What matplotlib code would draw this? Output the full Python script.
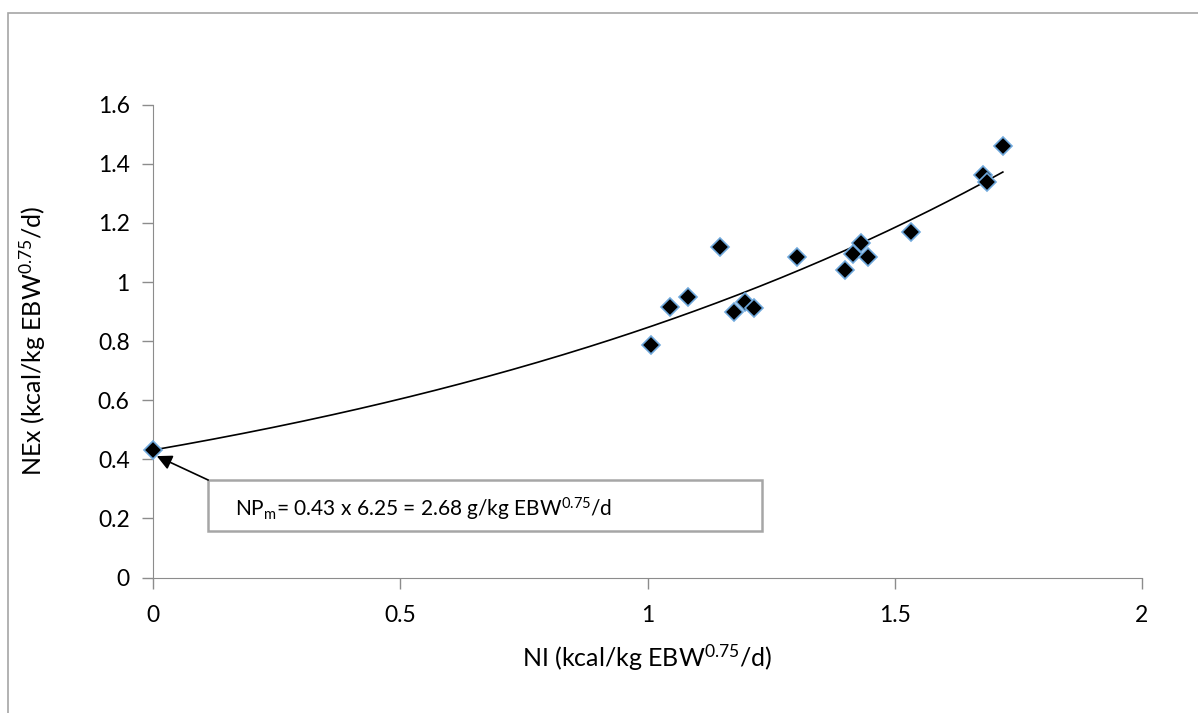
import matplotlib
matplotlib.use("Agg")
import matplotlib.pyplot as plt
from matplotlib.patches import Rectangle
import numpy as np

plt.rcParams.update({
    "font.family": ["Lato", "DejaVu Sans"],
    "mathtext.default": "regular",
    "axes.edgecolor": "#8c8c8c",
    "xtick.color": "#8c8c8c",
    "ytick.color": "#8c8c8c",
    "xtick.labelcolor": "black",
    "ytick.labelcolor": "black",
})

# NI vs NEx
ni = [0.0, 1.007, 1.046, 1.081, 1.146, 1.176, 1.198, 1.216, 1.303,
      1.400, 1.416, 1.431, 1.446, 1.533, 1.679, 1.687, 1.719]
nex = [0.43, 0.786, 0.916, 0.950, 1.118, 0.899, 0.933, 0.911, 1.086,
       1.041, 1.095, 1.133, 1.084, 1.171, 1.363, 1.338, 1.461]

xticks = [0, 0.5, 1, 1.5, 2]
xtick_labels = ["0", "0.5", "1", "1.5", "2"]
yticks = [0, 0.2, 0.4, 0.6, 0.8, 1, 1.2, 1.4, 1.6]
ytick_labels = ["0", "0.2", "0.4", "0.6", "0.8", "1", "1.2", "1.4", "1.6"]

note = "NP$_m$= 0.43 x 6.25 = 2.68 g/kg EBW$^{0.75}$/d"

# exponential trendline (least squares on log y, like excel)
b, ln_a = np.polyfit(ni, np.log(nex), 1)
xs = np.linspace(min(ni), max(ni), 200)
ys = np.exp(ln_a) * np.exp(b * xs)

fig = plt.figure(figsize=(11.98, 7.13), dpi=100)
ax = fig.add_axes([0.128, 0.19, 0.825, 0.663])

# outer chart border (only top/left visible in the crop)
fig.patches.append(Rectangle((8 / 1198, -0.05), 1.2, 1 - 13 / 713 + 0.05,
                             transform=fig.transFigure, fill=False,
                             edgecolor="#a6a6a6", linewidth=1.2))

ax.plot(xs, ys, color="black", linewidth=1.2, zorder=2)
ax.plot(ni, nex, linestyle="none", marker="D", markersize=9.5,
        markerfacecolor="black", markeredgecolor="#6fa8dc",
        markeredgewidth=1.2, zorder=3, clip_on=False)

ax.set_xlim(0, 2)
ax.set_ylim(0, 1.6)
ax.set_xticks(xticks)
ax.set_xticklabels(xtick_labels)
ax.set_yticks(yticks)
ax.set_yticklabels(ytick_labels)
ax.tick_params(labelsize=16.5, length=8, width=1.0)
ax.tick_params(axis="x", pad=12)
ax.tick_params(axis="y", pad=9)
ax.spines["top"].set_visible(False)
ax.spines["right"].set_visible(False)

ax.set_xlabel("NI (kcal/kg EBW$^{0.75}$/d)", fontsize=18, labelpad=12)
ax.set_ylabel("NEx (kcal/kg EBW$^{0.75}$/d)", fontsize=18, labelpad=36)

# annotation box and arrow
ax.add_patch(Rectangle((0.111, 0.158), 1.12, 0.172, fill=False,
                       edgecolor="#a6a6a6", linewidth=1.8, zorder=4,
                       clip_on=False))
ax.text(0.165, 0.232, note, fontsize=15, va="center", ha="left", zorder=5)
ax.annotate("", xy=(0.007, 0.411), xytext=(0.111, 0.330),
            arrowprops=dict(arrowstyle="-|>,head_length=0.9,head_width=0.45",
                            color="black", linewidth=1.2, shrinkA=0, shrinkB=0),
            zorder=5)

fig.savefig("out.png", dpi=100)
